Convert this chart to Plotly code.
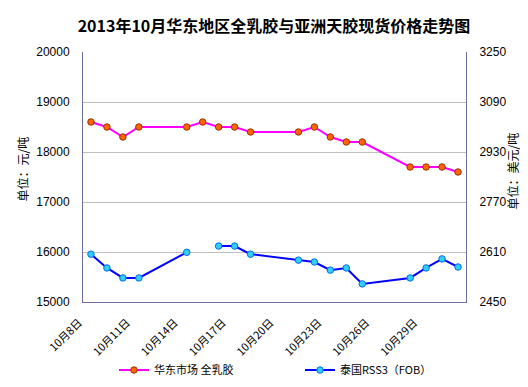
import plotly.graph_objects as go

# ---- data ----
all_days = ["10月%d日" % d for d in range(8, 32)]
label_days = ["10月8日", "10月11日", "10月14日", "10月17日", "10月20日", "10月23日", "10月26日", "10月29日"]
trade_days = ["10月8日", "10月9日", "10月10日", "10月11日", "10月14日", "10月15日", "10月16日",
              "10月17日", "10月18日", "10月21日", "10月22日", "10月23日", "10月24日", "10月25日",
              "10月28日", "10月29日", "10月30日", "10月31日"]
east_china_latex = [18600, 18500, 18300, 18500, 18500, 18600, 18500, 18500, 18400,
                    18400, 18500, 18300, 18200, 18200, 17700, 17700, 17700, 17600]
thai_rss3 = [2603, 2559, 2527, 2527, 2609, None, 2629, 2629, 2603,
             2584, 2578, 2552, 2559, 2508, 2527, 2559, 2588, 2562]
boundary_ticks = [-0.5, 2.5, 5.5, 8.5, 11.5, 14.5, 17.5, 20.5, 23.5]

AX = "#6E6EA0"
FONT = "Liberation Sans, Arial, Noto Sans CJK SC, sans-serif"
CJK = "Noto Sans CJK SC, sans-serif"

W, H = 528, 387
L, R, T, B = 75, 70, 44, 92
pw, ph = W - L - R, H - T - B
leg_y = -(362 - (T + ph)) / ph

fig = go.Figure()
fig.add_trace(go.Scatter(
    x=trade_days, y=east_china_latex, name="华东市场 全乳胶",
    mode="lines+markers", connectgaps=False,
    line=dict(color="#FF00FF", width=2),
    marker=dict(size=6.5, color="#FF6600", line=dict(color="#993300", width=1)),
    yaxis="y", legend="legend"))
fig.add_trace(go.Scatter(
    x=trade_days, y=thai_rss3, name="泰国RSS3（FOB）",
    mode="lines+markers", connectgaps=False,
    line=dict(color="#0000FF", width=2),
    marker=dict(size=6.5, color="#33CCFF", line=dict(color="#0070E0", width=1)),
    yaxis="y2", legend="legend2"))

fig.update_layout(
    width=W, height=H,
    margin=dict(l=L, r=R, t=T, b=B),
    paper_bgcolor="white", plot_bgcolor="white",
    font=dict(family=FONT, size=12, color="#000000"),
    title=dict(text="<b>2013年10月华东地区全乳胶与亚洲天胶现货价格走势图</b>",
               x=266 / W, xanchor="center", y=1 - 18 / H, yanchor="middle",
               font=dict(family=CJK, size=16, color="#000000")),
    xaxis=dict(type="category", categoryorder="array", categoryarray=all_days,
               range=[-0.5, 23.5], tickmode="array", tickvals=label_days, ticktext=label_days,
               tickangle=-45, ticks="", showgrid=False, zeroline=False,
               showline=True, linecolor=AX, linewidth=1,
               tickfont=dict(family=CJK, size=11, color="#000000"),
               ticklabelshift=-12, ticklabelstandoff=9),
    xaxis2=dict(overlaying="x", anchor="y", side="bottom", range=[-0.5, 23.5],
                tickmode="array", tickvals=boundary_ticks, ticktext=[""] * len(boundary_ticks),
                ticks="inside", ticklen=5, tickcolor=AX, showgrid=False, zeroline=False,
                showline=False),
    yaxis=dict(range=[15000, 20000], dtick=1000, tickmode="linear", tick0=15000,
               tickformat="d",
               showgrid=True, gridcolor="#BEBEBE", gridwidth=1, zeroline=False,
               showline=True, linecolor=AX, linewidth=1, ticks="",
               ticklabelstandoff=10, tickfont=dict(size=12)),
    yaxis2=dict(range=[2450, 3250], dtick=160, tickmode="linear", tick0=2450,
                tickformat="d",
                overlaying="y", side="right", showgrid=False, zeroline=False,
                showline=True, linecolor=AX, linewidth=1, ticks="",
                ticklabelstandoff=10, tickfont=dict(size=12)),
    showlegend=True,
    legend=dict(orientation="h", x=(106 - L) / pw, xanchor="left",
                y=leg_y, yanchor="middle",
                font=dict(family=CJK, size=11), itemwidth=30,
                bgcolor="rgba(0,0,0,0)"),
    legend2=dict(orientation="h", x=(292 - L) / pw, xanchor="left",
                 y=leg_y, yanchor="middle",
                 font=dict(family=CJK, size=11), itemwidth=30,
                 bgcolor="rgba(0,0,0,0)"),
    annotations=[
        dict(text="单位：元/吨", xref="paper", yref="paper", x=(15 - L) / pw,
             y=(T + ph - 162) / ph, textangle=-90, showarrow=False,
             font=dict(family=CJK, size=12), xanchor="center", yanchor="middle"),
        dict(text="单位：美元/吨", xref="paper", yref="paper", x=(505 - L) / pw,
             y=(T + ph - 164) / ph, textangle=-90, showarrow=False,
             font=dict(family=CJK, size=12), xanchor="center", yanchor="middle"),
    ],
)

fig.write_html("out.html")
